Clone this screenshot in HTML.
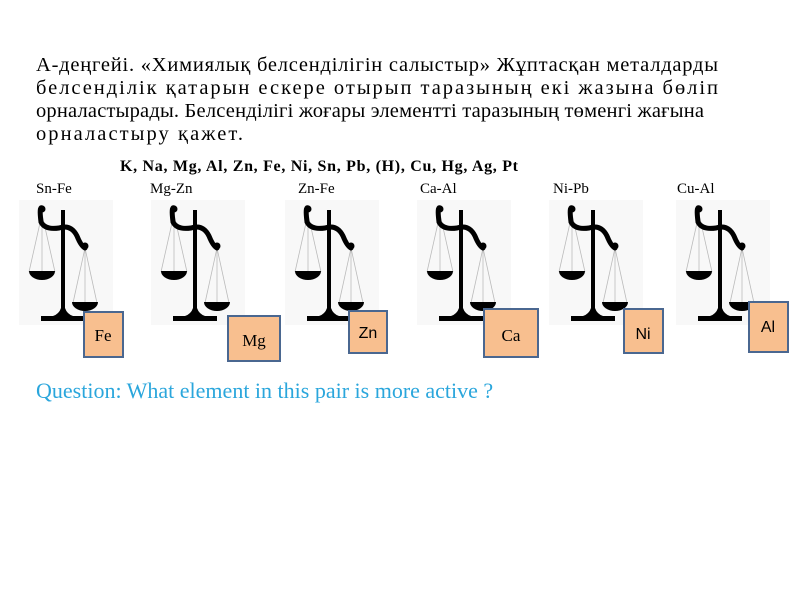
<!DOCTYPE html>
<html><head><meta charset="utf-8"><style>body{margin:0;background:#fff}svg{display:block}</style></head><body>
<svg width="800" height="600" xmlns="http://www.w3.org/2000/svg" font-family="'Liberation Serif', serif">
<defs>
<g id="sc">
<rect x="-44" y="0" width="94" height="125" fill="#f8f8f8"/>
<g stroke="#bbb" stroke-width="0.8" fill="none">
<path d="M-21 14 L-34 72 M-21 14 L-21 72 M-21 14 L-8 72"/>
<path d="M22 48 L10 103 M22 48 L22 103 M22 48 L34 103"/>
</g>
<path d="M-34 71 A13 9 0 0 0 -8 71 Z" fill="#000"/>
<path d="M9 102 A13 9 0 0 0 35 102 Z" fill="#000"/>
<path d="M-2 10 L2 10 L2 108 Q4 114 10 116 L22 116 L22 121 L-22 121 L-22 116 L-10 116 Q-4 114 -2 108 Z" fill="#000"/>
<path d="M-21 8 Q-24 6 -22 22 Q-18 30 -4 28 Q8 24 14 36 Q18 46 22 48" stroke="#000" stroke-width="5" fill="none" stroke-linecap="round"/>
<circle cx="-21" cy="9" r="3.5" fill="#000"/>
<circle cx="22" cy="46" r="3.5" fill="#000"/>
</g>
</defs>
<g font-size="20.5" fill="#000">
<text x="36" y="71" textLength="682" lengthAdjust="spacing">А-деңгейі. «Химиялық белсенділігін салыстыр» Жұптасқан металдарды</text>
<text x="36" y="94" textLength="682" lengthAdjust="spacing">белсенділік қатарын ескере отырып таразының екі жазына бөліп</text>
<text x="36" y="117" textLength="668" lengthAdjust="spacing">орналастырады. Белсенділігі жоғары элементті таразының төменгі жағына</text>
<text x="36" y="140" textLength="207" lengthAdjust="spacing">орналастыру қажет.</text>
</g>
<text x="120" y="171" font-size="16" font-weight="bold" textLength="398" lengthAdjust="spacing">K, Na, Mg, Al, Zn, Fe, Ni, Sn, Pb, (H), Cu, Hg, Ag, Pt</text>
<g font-size="15">
<text x="36" y="193">Sn-Fe</text><text x="150" y="193">Mg-Zn</text><text x="298" y="193">Zn-Fe</text>
<text x="420" y="193">Ca-Al</text><text x="553" y="193">Ni-Pb</text><text x="677" y="193">Cu-Al</text>
</g>
<use href="#sc" x="63" y="200"/><use href="#sc" x="195" y="200"/><use href="#sc" x="329" y="200"/>
<use href="#sc" x="461" y="200"/><use href="#sc" x="593" y="200"/><use href="#sc" x="720" y="200"/>
<g fill="#f8bf8f" stroke="#4a6790" stroke-width="2">
<rect x="84" y="312" width="39" height="45"/>
<rect x="228" y="316" width="52" height="45"/>
<rect x="349" y="311" width="38" height="42"/>
<rect x="484" y="309" width="54" height="48"/>
<rect x="624" y="309" width="39" height="44"/>
<rect x="749" y="302" width="39" height="50"/>
</g>
<g font-size="17" text-anchor="middle">
<text x="103" y="341">Fe</text><text x="254" y="346">Mg</text><text x="511" y="341">Ca</text>
</g>
<g font-size="16" text-anchor="middle" font-family="'Liberation Sans', sans-serif">
<text x="368" y="338">Zn</text><text x="643" y="339">Ni</text><text x="768" y="332">Al</text>
</g>
<text x="36" y="398" font-size="22" fill="#2aa6dc">Question: What element in this pair is more active ?</text>
</svg>
</body></html>
